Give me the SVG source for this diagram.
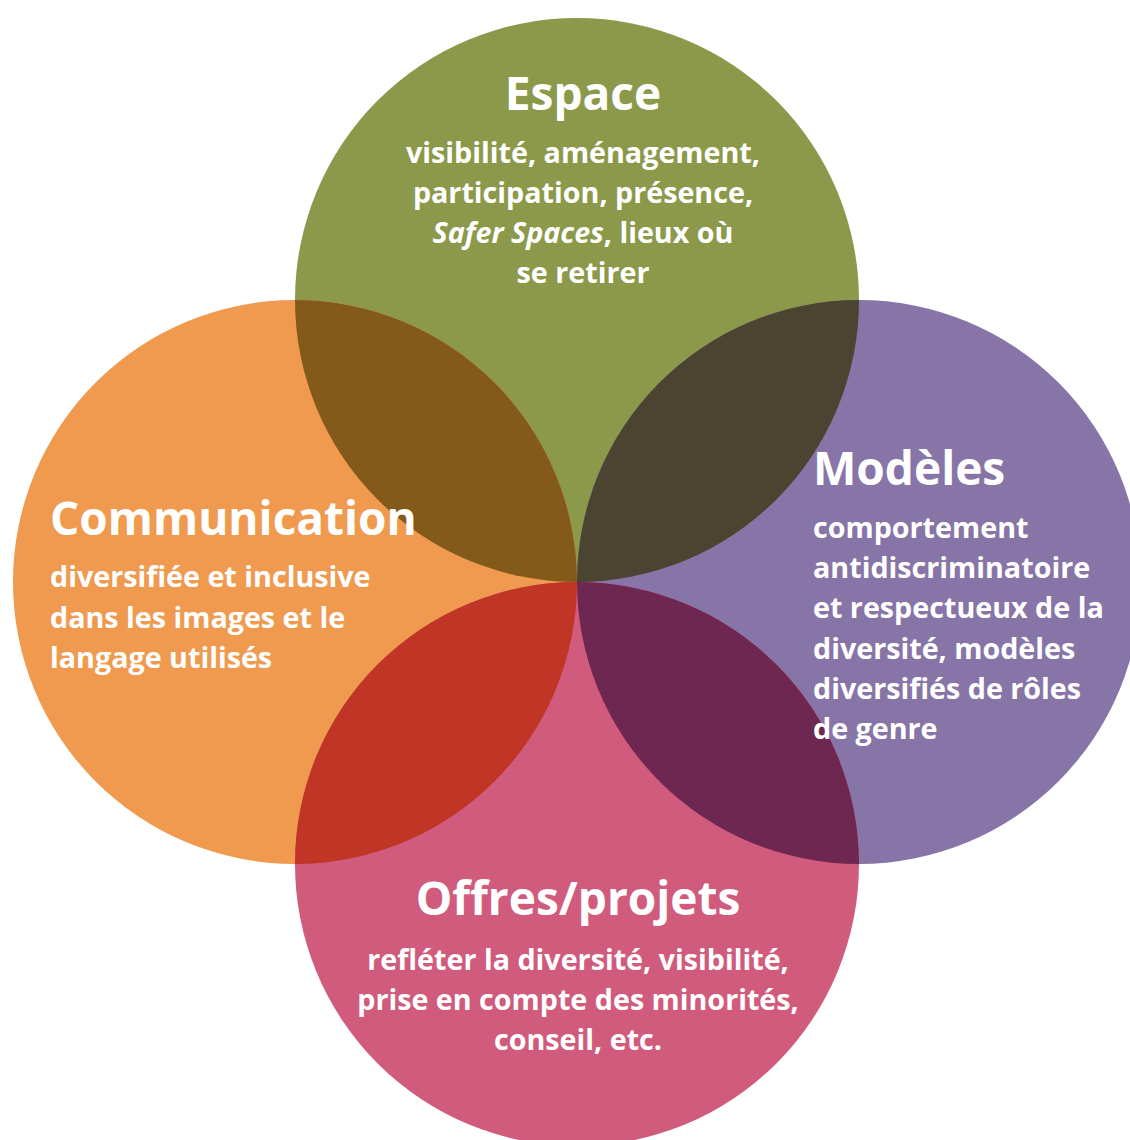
<svg xmlns="http://www.w3.org/2000/svg" width="1130" height="1140" viewBox="0 0 1130 1140">
<style>
text{font-family:"Open Sans","Noto Sans","Liberation Sans",sans-serif;fill:#fff;font-weight:700}
.t{font-size:46px}
.s{font-size:28.7px}
.c{text-anchor:middle}
</style>
<defs>
<clipPath id="cO"><circle cx="295" cy="582" r="282"/></clipPath>
<clipPath id="cP"><circle cx="859" cy="582" r="282"/></clipPath>
</defs>
<rect width="1130" height="1140" fill="#fff"/>
<g id="espace"><circle cx="577" cy="300" r="282" fill="#8c994b"/></g>
<g id="communication"><circle cx="295" cy="582" r="282" fill="#ef9a4f"/></g>
<g id="modeles"><circle cx="859" cy="582" r="282" fill="#8775a8"/></g>
<g id="offres"><circle cx="577" cy="864" r="282" fill="#d05b7c"/></g>
<g id="overlaps">
<circle cx="577" cy="300" r="282" fill="#835a1a" clip-path="url(#cO)"/>
<circle cx="577" cy="300" r="282" fill="#4a4431" clip-path="url(#cP)"/>
<circle cx="577" cy="864" r="282" fill="#c03526" clip-path="url(#cO)"/>
<circle cx="577" cy="864" r="282" fill="#6d2750" clip-path="url(#cP)"/>
</g>
<g id="labels">
<text class="t c" x="583" y="110">Espace</text>
<text class="s c" x="583" y="163">visibilité, aménagement,</text>
<text class="s c" x="583" y="203">participation, présence,</text>
<text class="s c" x="583" y="243"><tspan font-style="italic">Safer Spaces</tspan>, lieux où</text>
<text class="s c" x="583" y="283">se retirer</text>
<text class="t" x="50" y="535">Communication</text>
<text class="s" x="50" y="587">diversifiée et inclusive</text>
<text class="s" x="50" y="628">dans les images et le</text>
<text class="s" x="50" y="668">langage utilisés</text>
<text class="t" x="813" y="485">Modèles</text>
<text class="s" x="813" y="538">comportement</text>
<text class="s" x="813" y="578">antidiscriminatoire</text>
<text class="s" x="813" y="618">et respectueux de la</text>
<text class="s" x="813" y="659">diversité, modèles</text>
<text class="s" x="813" y="699">diversifiés de rôles</text>
<text class="s" x="813" y="739">de genre</text>
<text class="t c" x="578" y="915">Offres/projets</text>
<text class="s c" x="578" y="970">refléter la diversité, visibilité,</text>
<text class="s c" x="578" y="1010">prise en compte des minorités,</text>
<text class="s c" x="578" y="1050">conseil, etc.</text>
</g>
</svg>
